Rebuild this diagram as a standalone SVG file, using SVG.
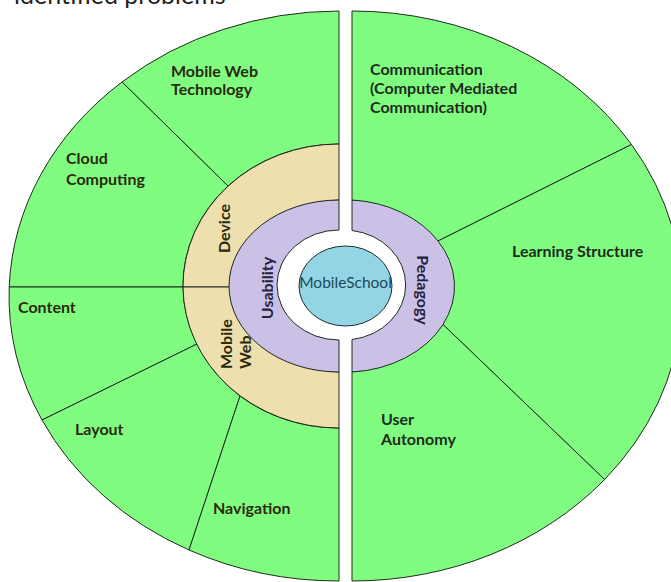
<svg xmlns="http://www.w3.org/2000/svg" width="671" height="582" viewBox="0 0 671 582">
  <defs>
    <style>
      .green { fill: #80fd80; stroke: #1e2a1e; stroke-width: 1; }
      .beige { fill: #eddfae; stroke: #1e2a1e; stroke-width: 1; }
      .purple { fill: #cbc0e6; stroke: #1e2a1e; stroke-width: 1; }
      .blue { fill: #93d5e5; stroke: #1e2a2e; stroke-width: 1; }
      .lbl { font-family: Lato, "Open Sans", "Liberation Sans", sans-serif; font-weight: bold; font-size: 16px; fill: #2a2a0e; }
      .rlbl { font-family: Lato, "Open Sans", "Liberation Sans", sans-serif; font-weight: bold; font-size: 16px; fill: #1f2b1c; }
      .ring { font-family: Lato, "Open Sans", "Liberation Sans", sans-serif; font-weight: bold; font-size: 16px; fill: #23233a; }
      .center { font-family: Lato, "Open Sans", "Liberation Sans", sans-serif; font-size: 15.5px; fill: #1d4a5a; }
      .head { font-family: Lato, "Open Sans", "Liberation Sans", sans-serif; font-size: 25px; fill: #222222; }
    </style>
  </defs>
  <rect x="0" y="0" width="671" height="582" fill="#ffffff"/>
  <text class="head" x="14" y="4">identified problems</text>

  <!-- Left half sectors -->
  <g id="mobile-web-technology">
    <path class="green" d="M339,144 L339,11 A330,285 0 0 0 122,82 L228,186 A156,142 0 0 1 339,144 Z"/>
    <text class="lbl" x="171" y="77">Mobile Web</text>
    <text class="lbl" x="171" y="95">Technology</text>
  </g>
  <g id="cloud-computing">
    <path class="green" d="M228,186 L122,82 A330,285 0 0 0 9.2,287 L183,287 A156,142 0 0 1 228,186 Z"/>
    <text class="lbl" x="66" y="164">Cloud</text>
    <text class="lbl" x="66" y="185">Computing</text>
  </g>
  <g id="content">
    <path class="green" d="M183,287 L9.2,287 A330,285 0 0 0 42,420 L197,344 A156,142 0 0 1 183,287 Z"/>
    <text class="lbl" x="18" y="313">Content</text>
  </g>
  <g id="layout">
    <path class="green" d="M197,344 L42,420 A330,285 0 0 0 189,550 L240,396 A156,142 0 0 1 197,344 Z"/>
    <text class="lbl" x="75" y="435">Layout</text>
  </g>
  <g id="navigation">
    <path class="green" d="M240,396 L189,550 A330,285 0 0 0 339,581 L339,428 A156,142 0 0 1 240,396 Z"/>
    <text class="lbl" x="213" y="514">Navigation</text>
  </g>

  <!-- Beige ring -->
  <g id="device">
    <path class="beige" d="M339,144 A156,142 0 0 0 183,287 L234.5,287 A110,86 0 0 1 339,200 Z"/>
    <text class="lbl" text-anchor="middle" transform="translate(230,228.5) rotate(-90)">Device</text>
  </g>
  <g id="mobile-web">
    <path class="beige" d="M183,287 A156,142 0 0 0 339,428 L339,372 A110,86 0 0 1 234.5,287 Z"/>
    <text class="lbl" transform="translate(232,369) rotate(-90)">Mobile</text>
    <text class="lbl" transform="translate(251,369) rotate(-90)">Web</text>
  </g>

  <!-- Purple ring -->
  <g id="usability">
    <path class="purple" d="M339,200 A110,86 0 0 0 339,372 L339,340 A62,55 0 0 1 339,230 Z"/>
    <text class="ring" text-anchor="middle" transform="translate(273,288) rotate(-90)">Usability</text>
  </g>
  <g id="pedagogy">
    <path class="purple" d="M352,200 A110,86 0 0 1 352,372 L352,339.5 A62,55 0 0 0 352,230.5 Z"/>
    <text class="ring" text-anchor="middle" transform="translate(417,290) rotate(90)">Pedagogy</text>
  </g>

  <!-- Right half sectors -->
  <g id="communication">
    <path class="green" d="M352,200 L352,11 A330,285 0 0 1 631.5,144.5 L438,241 A110,86 0 0 0 352,200 Z"/>
    <text class="rlbl" x="370" y="75">Communication</text>
    <text class="rlbl" x="370" y="94">(Computer Mediated</text>
    <text class="rlbl" x="370" y="113">Communication)</text>
  </g>
  <g id="learning-structure">
    <path class="green" d="M438,241 L631.5,144.5 A330,285 0 0 1 604.6,479.5 L443,324.5 A110,86 0 0 0 438,241 Z"/>
    <text class="rlbl" x="512" y="257">Learning Structure</text>
  </g>
  <g id="user-autonomy">
    <path class="green" d="M443,324.5 L604.6,479.5 A330,285 0 0 1 352,581 L352,372 A110,86 0 0 0 443,324.5 Z"/>
    <text class="rlbl" x="381" y="425">User</text>
    <text class="rlbl" x="381" y="445">Autonomy</text>
  </g>

  <!-- Centre -->
  <g id="mobileschool">
    <ellipse class="blue" cx="345.5" cy="286" rx="46.5" ry="40"/>
    <text class="center" x="345.5" y="288" text-anchor="middle">MobileSchool</text>
  </g>

  <g id="connectors"></g>
</svg>
